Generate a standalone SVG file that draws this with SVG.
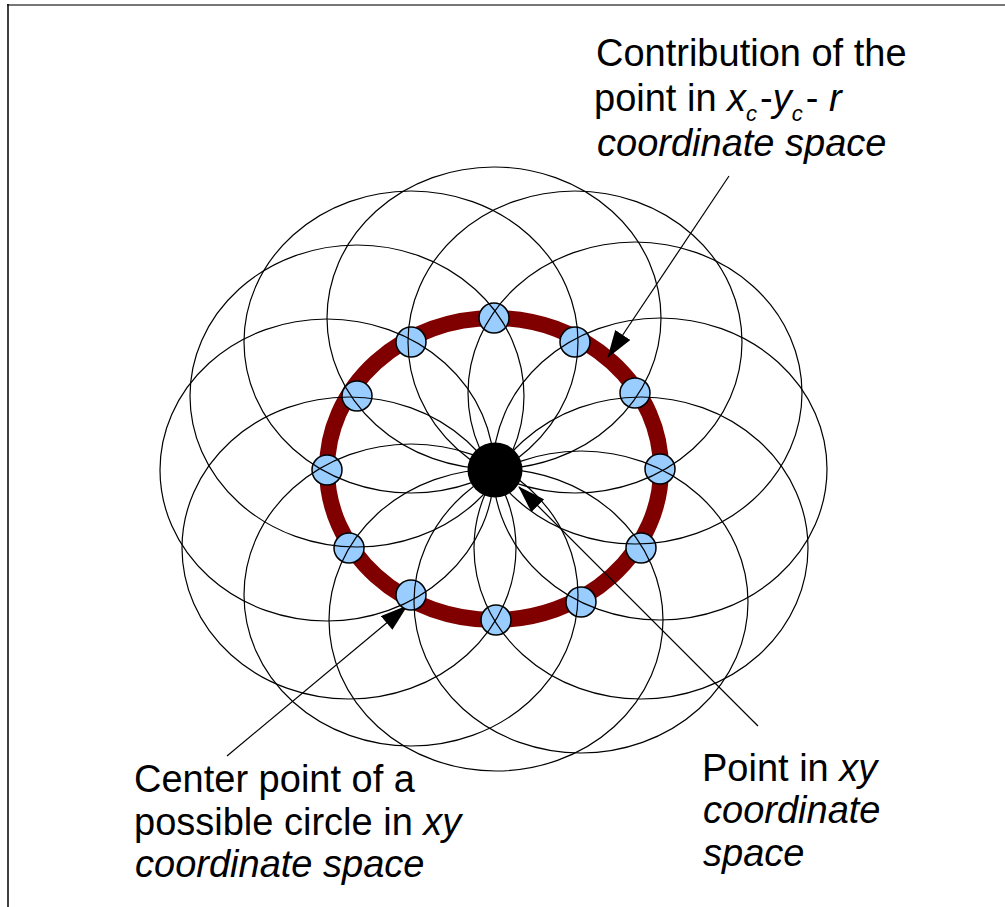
<svg xmlns="http://www.w3.org/2000/svg" width="1005" height="907" viewBox="0 0 1005 907">
<style>
.t{font-family:"Liberation Sans",Arial,sans-serif;font-size:38px;fill:#000}
.i{font-style:italic}
.s{font-size:22px;font-style:italic}
.thin{fill:none;stroke:#000;stroke-width:1.2}
.pt{fill:#99ccff;stroke:#000;stroke-width:1.5}
.arr{fill:none;stroke:#000;stroke-width:1.2;marker-end:url(#ah)}
</style>
<defs>
<marker id="ah" markerUnits="userSpaceOnUse" markerWidth="28" markerHeight="18" refX="25" refY="8.5" orient="auto" viewBox="0 0 26 17">
<path d="M0,0 L26,8.5 L0,17 z" fill="#000"/>
</marker>
<ellipse id="e" cx="0" cy="0" rx="167" ry="151" class="thin"/>
</defs>
<rect x="0" y="0" width="1005" height="907" fill="#fff"/>
<line x1="7" y1="5" x2="1005" y2="5" stroke="#777" stroke-width="2"/>
<line x1="8" y1="4" x2="8" y2="907" stroke="#000" stroke-width="1.5"/>
<g id="ring">
<ellipse cx="494" cy="469" rx="167" ry="151" fill="none" stroke="#800000" stroke-width="16"/>
</g>
<g id="connectors">
<line class="arr" x1="729" y1="176" x2="608" y2="357"/>
<line class="arr" x1="758" y1="726" x2="519" y2="487"/>
<line class="arr" x1="227" y1="756" x2="407" y2="606"/>
</g>
<g id="points">
<circle class="pt" cx="494" cy="318" r="15"/>
<circle class="pt" cx="575" cy="342" r="15"/>
<circle class="pt" cx="635" cy="393" r="15"/>
<circle class="pt" cx="660" cy="469" r="15"/>
<circle class="pt" cx="641" cy="548" r="15"/>
<circle class="pt" cx="581" cy="602" r="15"/>
<circle class="pt" cx="496" cy="620" r="15"/>
<circle class="pt" cx="411" cy="595" r="15"/>
<circle class="pt" cx="349" cy="548" r="15"/>
<circle class="pt" cx="327" cy="470" r="15"/>
<circle class="pt" cx="357" cy="396" r="15"/>
<circle class="pt" cx="411" cy="342" r="15"/>
</g>
<g id="circles">
<use href="#e" x="494" y="318"/>
<use href="#e" x="575" y="342"/>
<use href="#e" x="635" y="393"/>
<use href="#e" x="660" y="469"/>
<use href="#e" x="641" y="548"/>
<use href="#e" x="581" y="602"/>
<use href="#e" x="496" y="620"/>
<use href="#e" x="411" y="595"/>
<use href="#e" x="349" y="548"/>
<use href="#e" x="327" y="470"/>
<use href="#e" x="357" y="396"/>
<use href="#e" x="411" y="342"/>
</g>
<g id="center">
<circle cx="495" cy="470" r="27.5" fill="#000"/>
</g>
<g id="label-contribution">
<text class="t" x="596" y="66">Contribution of the</text>
<text class="t" x="594" y="111">point in <tspan class="i">x</tspan><tspan class="s" dy="10">c</tspan><tspan dx="3" dy="-10">-</tspan><tspan class="i">y</tspan><tspan class="s" dy="10">c</tspan><tspan dx="3" dy="-10">- </tspan><tspan class="i">r</tspan></text>
<text class="t i" x="597" y="156">coordinate space</text>
</g>
<g id="label-point">
<text class="t" x="702" y="781">Point in <tspan class="i">xy</tspan></text>
<text class="t i" x="703" y="823">coordinate</text>
<text class="t i" x="703" y="866">space</text>
</g>
<g id="label-center">
<text class="t" x="134" y="792">Center point of a</text>
<text class="t" x="134" y="835">possible circle in <tspan class="i">xy</tspan></text>
<text class="t i" x="135" y="877">coordinate space</text>
</g>
</svg>
